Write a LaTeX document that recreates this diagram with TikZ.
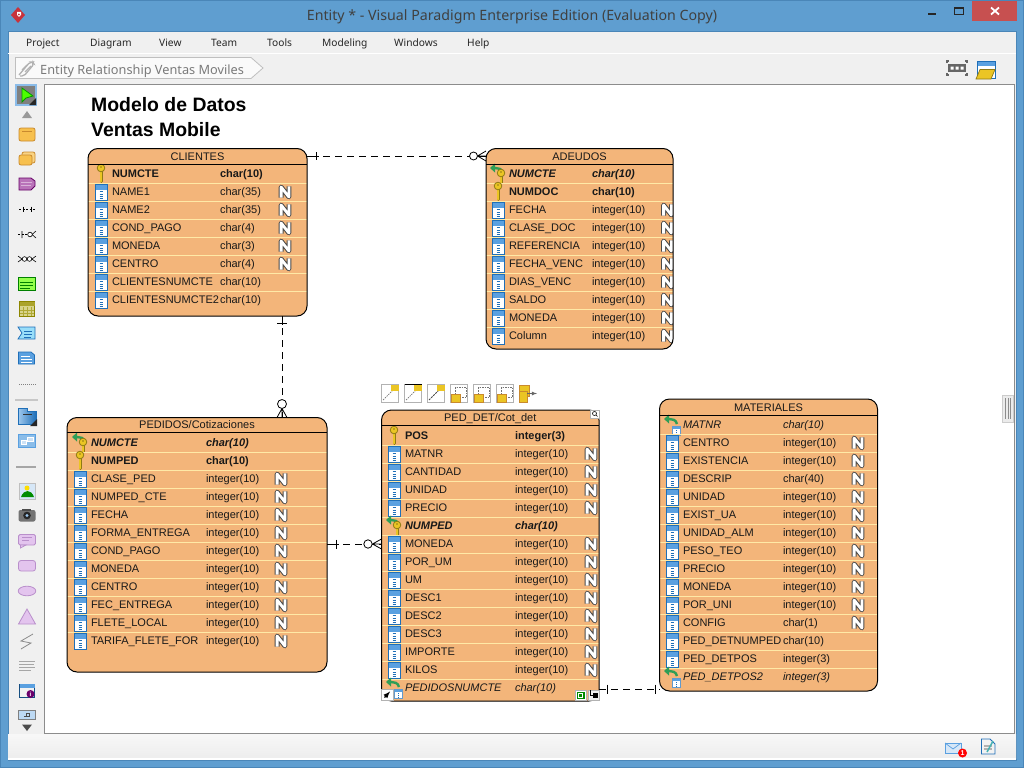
\documentclass[tikz,border=0pt]{standalone}
\usepackage{fontspec}
\setmainfont{Liberation Sans}
\newfontfamily\uifont{Noto Sans}
\usetikzlibrary{calc}
\definecolor{winblue}{HTML}{5F9ED0}
\definecolor{winedge}{HTML}{4A86B8}
\definecolor{panel}{HTML}{F0F0F0}
\definecolor{entfill}{HTML}{F3B57A}
\definecolor{rowsep}{HTML}{FFE9A6}
\definecolor{colblue}{HTML}{1F6FB8}
\definecolor{colhead}{HTML}{5AA0E0}
\definecolor{keygold}{HTML}{EBC524}
\definecolor{keyedge}{HTML}{8F7A14}
\definecolor{fkgreen}{HTML}{2F9E57}
\definecolor{nedge}{HTML}{4A4A4A}
\definecolor{lilac}{HTML}{E3C4EE}
\definecolor{lilacd}{HTML}{B98FCB}
\definecolor{toolgold}{HTML}{F7C04E}
\definecolor{toolgoldd}{HTML}{C98A2E}
\definecolor{closered}{HTML}{C75050}
\definecolor{logored}{HTML}{C8323C}
\tikzset{
  x=1pt,y=-1pt,
  enttext/.style={anchor=base west,inner sep=0pt,outer sep=0pt,font=\fontsize{11}{13}\selectfont,text=black!90},
  enttitle/.style={anchor=base,inner sep=0pt,outer sep=0pt,font=\fontsize{11}{13}\selectfont,text=black!90},
  entbox/.style={anchor=north west,inner sep=0pt,outer sep=0pt,rectangle,rounded corners=10pt,fill=entfill},
  entline/.style={black,line width=1pt},
  conn/.style={black,line width=0.8pt,dash pattern=on 7pt off 5pt},
  connsolid/.style={black,line width=0.8pt},
  menutext/.style={anchor=base west,inner sep=0pt,font=\uifont\fontsize{10.2}{12}\selectfont,text=black!85},
  tbox/.style={draw=black!30,fill=white,line width=0.7pt},
}
% ---- field icons ----
\newcommand\Icoc[2]{%
  \fill[white] (#1-6,#2-7.5) rectangle (#1+6,#2+8);
  \fill[colhead] (#1-6,#2-7.5) rectangle (#1+6,#2-2.5);
  \draw[colblue,line width=0.9pt] (#1-6,#2-7.5) rectangle (#1+6,#2+8);
  \foreach \dy in {-0.5,2,4.5,6.5}{\draw[colblue,line width=1pt] (#1-1.5,#2+\dy) -- (#1+1.5,#2+\dy);}
}
\newcommand\KeyAt[3]{% x, head y, stem length
  \draw[keyedge,line width=3pt,line cap=round] (#1,#2) -- (#1,#2+#3);
  \draw[keygold,line width=1.6pt,line cap=round] (#1,#2) -- (#1,#2+#3);
  \draw[keyedge,fill=keygold,line width=0.8pt] (#1,#2) circle[radius=3.8];
  \fill[keyedge] (#1,#2-1) circle[radius=0.9];
}
\newcommand\Arrow[2]{% anchor at key/icon
  \draw[fkgreen,line width=2.4pt] (#1+5,#2-1) .. controls (#1+4,#2-5.5) and (#1,#2-6) .. (#1-3,#2-6);
  \fill[fkgreen] (#1-8,#2-6) -- (#1-3,#2-10.5) -- (#1-3,#2-1.5) -- cycle;
}
\newcommand\Icop[2]{\KeyAt{#1}{#2-6}{13.5}}
\newcommand\Icof[2]{\Arrow{#1}{#2}\KeyAt{#1+3}{#2-1}{10}}
\newcommand\Icog[2]{%
  \Arrow{#1}{#2}%
  \fill[white] (#1+0.5,#2+1) rectangle (#1+8.5,#2+10);
  \fill[colhead] (#1+0.5,#2+1) rectangle (#1+8.5,#2+4);
  \draw[colblue!70,line width=0.5pt] (#1+0.5,#2+1) rectangle (#1+8.5,#2+10);
  \draw[colblue,line width=1pt,dash pattern=on 1pt off 0.8pt] (#1+4.5,#2+5) -- (#1+4.5,#2+9.5);
}
\newcommand\NIcon[2]{%
  \draw[nedge,line width=4.8pt,miter limit=2,line join=round] (#1-3.9,#2+5.6) -- (#1-3.9,#2-5) -- (#1+3.9,#2+5) -- (#1+3.9,#2-5.6);
  \draw[white,line width=2.8pt,miter limit=2,line join=round] (#1-3.9,#2+5.6) -- (#1-3.9,#2-5) -- (#1+3.9,#2+5) -- (#1+3.9,#2-5.6);
}
\newcommand\Fntc{}\newcommand\Fntp{\bfseries}\newcommand\Fntf{\bfseries\itshape}\newcommand\Fntg{\itshape}
% ---- entity: name,title,x,y,w,h,header-y,rows ----
\newcommand\Ent[8]{%
  \node[entbox,minimum width=#5pt,minimum height=#6pt] (#1) at (#3,#4) {};
  \begin{scope}
  \clip (#1.north west) rectangle (#1.south east);
  \foreach \rk/\rn/\rt/\rz [count=\i from 0] in {#8}{%
    \pgfmathsetmacro\yc{\FY+18*\i}%
    \ifnum\i>0 \draw[rowsep,line width=0.9pt] (#3,\yc-8) -- (#3+#5,\yc-8);\fi
    \csname Ico\rk\endcsname{\IX}{\yc+1}%
    \node[enttext] (#1-name\i) at (\NX,\yc+4) {\csname Fnt\rk\endcsname\rn};
    \node[enttext] (#1-type\i) at (\TX,\yc+4) {\csname Fnt\rk\endcsname\rt};
    \if n\rz \NIcon{\ZX}{\yc+1}\fi
  }
  \end{scope}
  \draw[entline,rounded corners=10pt] (#1.north west) rectangle (#1.south east);
  \draw[entline] (#3,#7) -- (#3+#5,#7);
  \node[enttitle] (#1-title) at (#3+#5/2,#7-4) {#2};
}
\begin{document}
\begin{tikzpicture}
\useasboundingbox (0,0) rectangle (1024,768);
% window frame
\fill[winedge] (0,0) rectangle (1024,768);
\fill[winblue] (1,1) rectangle (1023,767);
\fill[panel] (8,31) rectangle (1016,760);
\draw[winedge,line width=0.8pt] (8,31) rectangle (1016,760);
\fill[white] (8,53) rectangle (1016,54);
% logo
\fill[logored] (18,7) -- (25,15) -- (18,23) -- (11,15) -- cycle;
\fill[white] (17,12) -- (21,12) -- (21,15) -- (19,17) -- (17,15) -- cycle;
\fill[logored] (18.8,13.5) -- (20,14.5) -- (18.8,15.5) -- (17.8,14.5) -- cycle;
\node[anchor=base,inner sep=0pt,font=\uifont\fontsize{14.2}{16}\selectfont,text=black!75] (wintitle) at (512,21) {Entity * - Visual Paradigm Enterprise Edition (Evaluation Copy)};
% window buttons
\draw[black!85,line width=2pt] (928,14) -- (936,14);
\draw[black!85,line width=1pt] (954.5,7.5) rectangle (963.5,14.5);
\draw[black!85,line width=2pt] (954.5,8) -- (963.5,8);
\fill[closered] (972,1) rectangle (1017,21);
\draw[white,line width=1.8pt] (991,7.5) -- (999,14.5) (999,7.5) -- (991,14.5);
% menu
\node[menutext] (m1) at (26,47) {Project};
\node[menutext] (m2) at (90,47) {Diagram};
\node[menutext] (m3) at (159,47) {View};
\node[menutext] (m4) at (211,47) {Team};
\node[menutext] (m5) at (267,47) {Tools};
\node[menutext] (m6) at (322,47) {Modeling};
\node[menutext] (m7) at (394,47) {Windows};
\node[menutext] (m8) at (467,47) {Help};
% breadcrumb
\draw[black!25,fill=black!2,line width=0.8pt] (15.5,57.5) -- (251,57.5) -- (263,68) -- (251,78.5) -- (15.5,78.5) -- cycle;
\draw[black!30,line width=1.3pt,rounded corners=2pt] (19,75) -- (30,62) -- (33,62) -- (34,64) -- (24,76) -- (20,76);
\draw[black!30,line width=1.1pt,rounded corners=2pt] (22,70) -- (27,65) (25,72) -- (31,66);
\node[anchor=base west,inner sep=0pt,font=\uifont\fontsize{12.75}{15}\selectfont,text=black!52] (crumb) at (40,74.5) {Entity Relationship Ventas Moviles};
% top-right toolbar icons
\fill[black!60] (948,64) rectangle (966,72);
\fill[white] (950.5,66.5) rectangle (953.5,69.5) (955.5,66.5) rectangle (958.5,69.5) (960.5,66.5) rectangle (963.5,69.5);
\draw[black!60,line width=1.2pt] (947,63) -- (947,61) -- (949,61) (965,61) -- (967,61) -- (967,63) (947,73) -- (947,75) -- (949,75) (965,75) -- (967,75) -- (967,73);
\fill[white] (977,61) rectangle (995,78);
\fill[colhead] (977,61) rectangle (995,66);
\draw[colblue,line width=0.8pt] (977,61) rectangle (995,78);
\fill[keygold,draw=keyedge,line width=0.7pt] (980,69.5) -- (995,69.5) -- (991,79) -- (976,79) -- cycle;
% diagram canvas
\fill[white] (44,84) rectangle (1014.5,733);
\draw[black!45,line width=0.8pt] (44.5,84.5) rectangle (1014.5,733.5);
% scrollbar grip
\fill[black!8,draw=black!20,line width=0.6pt] (1002,395) rectangle (1013,422);
\draw[black!45,line width=0.5pt] (1005.5,398) -- (1005.5,419) (1008,398) -- (1008,419) (1010.5,398) -- (1010.5,419);
% status bar
\shade[top color=white!97!black,bottom color=black!7] (8,734) rectangle (1016,758);
\fill[white] (8,758) rectangle (1016,760);
\draw[colhead,fill=colhead!25,line width=0.9pt] (945,743) rectangle (961,753);
\draw[colhead,line width=0.7pt] (945,743) -- (953,749) -- (961,743);
\fill[red] (962.5,753) circle[radius=4.5];
\node[inner sep=0pt,font=\bfseries\fontsize{7}{8}\selectfont,text=white] (msgcount) at (962.5,753) {1};
\draw[colblue,fill=black!5,line width=0.8pt] (981.5,739) -- (990,739) -- (995,744) -- (995,754) -- (981.5,754) -- cycle;
\draw[black!30,line width=1.2pt] (984,746) -- (992,746) (984,749) -- (992,749);
\draw[colhead!80!green,line width=1.5pt] (987,752) -- (993,741);
% ---- left tool palette ----
\fill[colhead!70] (15,84) rectangle (37,106);
\fill[black!50] (17,86) rectangle (35,104);
\draw[green!60!black,fill=green!70!yellow,line width=0.8pt] (22,88) -- (22,102) -- (26,98) -- (33,96) -- cycle;
\fill[black!85] (36,98) -- (36,105) -- (29,105) -- cycle;
\fill[black!40] (22,118) -- (27,111) -- (32,118) -- cycle;
\draw[toolgoldd,fill=toolgold,rounded corners=2pt,line width=0.8pt] (19,128) rectangle (35,141);
\draw[toolgoldd,line width=0.8pt] (22,131) -- (32,131);
\draw[toolgoldd,fill=toolgold!70,rounded corners=2pt,line width=0.8pt] (22,152) rectangle (35,163);
\draw[toolgoldd,fill=toolgold,rounded corners=2pt,line width=0.8pt] (19,155) rectangle (32,165);
\draw[violet!80!black,fill=violet!55!white,line width=0.8pt] (19,178) -- (31,178) -- (35,181) -- (35,186) -- (31,190) -- (19,190) -- cycle;
\draw[white!70!violet,line width=0.7pt] (21,182) -- (32,182) (21,185) -- (31,185);
\draw[black,line width=0.6pt,dash pattern=on 2pt off 1.5pt] (19,209) -- (35,209);
\draw[black,line width=0.6pt] (23,206.5) -- (23,211.5) (31,206.5) -- (31,211.5);
\draw[black,line width=0.6pt,dash pattern=on 2pt off 1.5pt] (18,234.5) -- (28,234.5);
\draw[black,line width=0.6pt] (22,231) -- (22,238) (32,234.5) -- (36,231) (32,234.5) -- (36,238);
\draw[black,line width=0.6pt,fill=white] (30,234.5) circle[radius=2.3];
\draw[black,line width=0.6pt] (18,256) -- (22,259) -- (18,262) (36,256) -- (32,259) -- (36,262) (22,259) -- (32,259);
\draw[black,line width=0.6pt,fill=white] (24.5,259) circle[radius=2.3] (29.5,259) circle[radius=2.3];
\draw[green!50!black,fill=green!60!yellow!70,line width=0.8pt] (18.5,277.5) rectangle (35,290);
\draw[green!50!black,line width=0.8pt] (20,282) -- (33,282) (20,285) -- (33,285) (20,288) -- (30,288);
\draw[olive,fill=olive!35,line width=0.8pt] (19.5,301.5) rectangle (34.5,316.5);
\fill[olive!75] (19.5,301.5) rectangle (34.5,306);
\draw[olive!70,line width=0.5pt] (23,307) -- (23,316) (27,307) -- (27,316) (31,307) -- (31,316) (20,310) -- (34,310) (20,313) -- (34,313);
\draw[colblue,fill=cyan!40,line width=0.8pt] (18,327) -- (35,327) -- (35,339) -- (18,339) -- (22,333) -- cycle;
\draw[colblue,line width=0.7pt] (24,331) -- (32,331) (24,334) -- (32,334) (24,337) -- (31,337);
\draw[colblue,fill=colhead,line width=0.8pt] (18.5,352) -- (31,352) -- (34.5,355) -- (34.5,364) -- (18.5,364) -- cycle;
\draw[white,line width=0.7pt] (21,356) -- (30,356) (21,359) -- (32,359) (21,362) -- (32,362);
\draw[black!50,line width=0.6pt,dash pattern=on 1.2pt off 0.8pt] (19,384.5) -- (36,384.5);
\fill[black!22] (15,399) rectangle (38,401);
\draw[colblue,left color=colhead!60,right color=colblue,line width=0.5pt] (18.5,408) -- (27,408) -- (27,411) -- (36,411) -- (36,424.5) -- (18.5,424.5) -- cycle;
\draw[black!80,line width=1pt] (23,414.5) -- (32,414.5);
\fill[black!85] (37,419) -- (37,426) -- (30,426) -- cycle;
\draw[colhead,fill=colhead!70,line width=0.6pt] (18.5,434.5) rectangle (35,447);
\draw[white,line width=0.7pt,fill=colhead!30] (21,440) rectangle (26,444) (27,437.5) rectangle (33,441.5);
\fill[black!35] (16,465.5) rectangle (36,467.5);
\draw[black!25,fill=colhead!25,line width=0.8pt] (19.5,483) rectangle (35,499);
\fill[green!55!black] (21,497) .. controls (24,489) and (31,489) .. (34,497) -- cycle;
\fill[yellow!90!red] (27,488) circle[radius=2.5];
\fill[black!55,rounded corners=2pt] (18.5,510) rectangle (35.5,521.5);
\fill[black!70] (22,508.5) rectangle (31,511);
\fill[black!85] (27,515.5) circle[radius=3.8];
\fill[colhead!60] (27,515.5) circle[radius=1.6];
\draw[lilacd,fill=lilac,rounded corners=1.5pt,line width=0.8pt] (18.5,534.5) rectangle (35.5,545) ;
\fill[lilac,draw=lilacd,line width=0.7pt] (20.5,545) -- (20.5,548) -- (26,545) -- cycle;
\draw[lilacd,line width=0.6pt] (22,537.5) -- (32,537.5) (22,540.5) -- (29,540.5);
\draw[lilacd,fill=lilac,rounded corners=2.5pt,line width=0.8pt] (18.5,560.5) rectangle (35.5,571);
\draw[lilacd,fill=lilac,line width=0.8pt] (27,591) ellipse[x radius=8.8,y radius=4.8];
\draw[lilacd,fill=lilac,line width=0.8pt] (27,609) -- (35.5,624) -- (18.5,624) -- cycle;
\draw[black!45,line width=0.8pt] (33,634) -- (21,641) -- (31,643) -- (21,649);
\draw[black!35,line width=0.7pt] (19,661) -- (35,661) (19,664) -- (34,664) (19,667) -- (35,667) (19,670) -- (31,670);
\draw[colblue!70!black,fill=black!5,line width=0.8pt] (19.5,684) rectangle (34.5,697.5);
\fill[colhead] (19.5,684) rectangle (34.5,687.5);
\fill[violet!85!black] (30.5,694) circle[radius=4];
\node[inner sep=0pt,font=\bfseries\fontsize{6}{7}\selectfont,text=white] (infoi) at (30.5,694) {i};
\draw[black!50,fill=colhead!40,line width=0.7pt] (18.5,710.5) rectangle (35,719.5);
\fill[panel] (15,719.5) rectangle (38,724);
\draw[black!70,line width=0.7pt] (24,716) -- (30,716) (26,713) rectangle (29,716);
\fill[black!70] (22,724.5) -- (32,724.5) -- (27,731) -- cycle;
% ---- title ----
\node[anchor=base west,inner sep=0pt,font=\bfseries\fontsize{19.4}{22}\selectfont] (dtitle1) at (91,111) {Modelo de Datos};
\node[anchor=base west,inner sep=0pt,font=\bfseries\fontsize{19.4}{22}\selectfont] (dtitle2) at (91,136) {Ventas Mobile};
% ---- entities ----
\def\FY{173}\def\IX{101}\def\NX{112}\def\TX{220}\def\ZX{285}
\Ent{clientes}{CLIENTES}{88}{148.5}{219}{167.5}{164}{
 p/NUMCTE/char(10)/x,c/NAME1/char(35)/n,c/NAME2/char(35)/n,c/COND\_PAGO/char(4)/n,c/MONEDA/char(3)/n,c/CENTRO/char(4)/n,c/CLIENTESNUMCTE/char(10)/x,c/CLIENTESNUMCTE2/char(10)/x}
\def\FY{173}\def\IX{498}\def\NX{509}\def\TX{592}\def\ZX{667.5}
\Ent{adeudos}{ADEUDOS}{486}{148.5}{187}{200.5}{164}{
 f/NUMCTE/char(10)/x,p/NUMDOC/char(10)/x,c/FECHA/integer(10)/n,c/CLASE\_DOC/integer(10)/n,c/REFERENCIA/integer(10)/n,c/FECHA\_VENC/integer(10)/n,c/DIAS\_VENC/integer(10)/n,c/SALDO/integer(10)/n,c/MONEDA/integer(10)/n,c/Column/integer(10)/n}
\def\FY{442}\def\IX{80}\def\NX{91}\def\TX{206}\def\ZX{281}
\Ent{pedidos}{PEDIDOS/Cotizaciones}{67}{417.5}{260}{254.5}{432.5}{
 f/NUMCTE/char(10)/x,p/NUMPED/char(10)/x,c/CLASE\_PED/integer(10)/n,c/NUMPED\_CTE/integer(10)/n,c/FECHA/integer(10)/n,c/FORMA\_ENTREGA/integer(10)/n,c/COND\_PAGO/integer(10)/n,c/MONEDA/integer(10)/n,c/CENTRO/integer(10)/n,c/FEC\_ENTREGA/integer(10)/n,c/FLETE\_LOCAL/integer(10)/n,c/TARIFA\_FLETE\_FOR/integer(10)/n}
\def\FY{435}\def\IX{394}\def\NX{405}\def\TX{515}\def\ZX{591}
\Ent{peddet}{PED\_DET/Cot\_det}{381.5}{410}{217.5}{291}{425.5}{
 p/POS/integer(3)/x,c/MATNR/integer(10)/n,c/CANTIDAD/integer(10)/n,c/UNIDAD/integer(10)/n,c/PRECIO/integer(10)/n,f/NUMPED/char(10)/x,c/MONEDA/integer(10)/n,c/POR\_UM/integer(10)/n,c/UM/integer(10)/n,c/DESC1/integer(10)/n,c/DESC2/integer(10)/n,c/DESC3/integer(10)/n,c/IMPORTE/integer(10)/n,c/KILOS/integer(10)/n,g/PEDIDOSNUMCTE/char(10)/x}
\def\FY{424}\def\IX{672}\def\NX{683}\def\TX{783}\def\ZX{858}
\Ent{materiales}{MATERIALES}{659.5}{399}{218}{292}{415}{
 g/MATNR/char(10)/x,c/CENTRO/integer(10)/n,c/EXISTENCIA/integer(10)/n,c/DESCRIP/char(40)/n,c/UNIDAD/integer(10)/n,c/EXIST\_UA/integer(10)/n,c/UNIDAD\_ALM/integer(10)/n,c/PESO\_TEO/integer(10)/n,c/PRECIO/integer(10)/n,c/MONEDA/integer(10)/n,c/POR\_UNI/integer(10)/n,c/CONFIG/char(1)/n,c/PED\_DETNUMPED/char(10)/x,c/PED\_DETPOS/integer(3)/x,g/PED\_DETPOS2/integer(3)/x}
% ---- connectors ----
% clientes -- adeudos
\coordinate (a1) at ([yshift=-7.5pt]clientes.north east);
\coordinate (a2) at ([yshift=-7.5pt]adeudos.north west);
\draw[conn] ([xshift=16pt]a1) -- (a2);
\draw[connsolid] (a1) -- ++(12,0);
\draw[connsolid] (a1) ++(9,-4) -- ++(0,8);
\draw[connsolid,fill=white] (a2) ++(-12.5,0) circle[radius=4];
\draw[connsolid] (a2) ++(-8.5,0) -- ++(8.5,0) (a2) ++(-8.5,0) -- ++(8.5,-5) (a2) ++(-8.5,0) -- ++(8.5,5);
% clientes -- pedidos
\coordinate (b1) at (282,0);
\coordinate (b2) at (clientes.south -| b1);
\coordinate (b3) at (pedidos.north -| b1);
\draw[conn] ([yshift=-12pt]b2) -- (b3);
\draw[connsolid] (b2) -- ++(0,9);
\draw[connsolid] (b2) ++(-5,7) -- ++(10,0);
\draw[connsolid,fill=white] (b3) ++(0,-13.5) circle[radius=4.5];
\draw[connsolid] (b3) ++(0,-9) -- ++(0,9) (b3) ++(0,-9) -- ++(-5,9) (b3) ++(0,-9) -- ++(5,9);
% pedidos -- ped_det
\coordinate (c1) at (0,544);
\coordinate (c2) at (pedidos.east |- c1);
\coordinate (c3) at (peddet.west |- c1);
\draw[conn] ([xshift=16pt]c2) -- (c3);
\draw[connsolid] (c2) -- ++(12,0);
\draw[connsolid] (c2) ++(9,-4.5) -- ++(0,9);
\draw[connsolid,fill=white] (c3) ++(-13.5,0) circle[radius=4.2];
\draw[connsolid] (c3) ++(-9,0) -- ++(9,0) (c3) ++(-9,0) -- ++(9,-5) (c3) ++(-9,0) -- ++(9,5);
% ped_det -- materiales
\coordinate (d1) at (0,689);
\coordinate (d2) at (peddet.east |- d1);
\coordinate (d3) at (materiales.west |- d1);
\draw[conn] (d2) -- (d3);
\draw[connsolid] (d2) ++(8,-4.5) -- ++(0,9);
\draw[connsolid] (d3) ++(-4.5,-4.5) -- ++(0,9);
% ---- selection handles on ped_det ----
\draw[tbox] (590,410) rectangle (599,418);
\draw[black,line width=0.6pt] (594.5,413.5) circle[radius=2] (596,415) -- (597.5,416.5);
\draw[tbox] (381.5,689) rectangle (393,700);
\draw[black,line width=1.3pt,-latex] (384.5,697.5) -- (390,691.5);
\draw[tbox] (575,690) rectangle (586,700);
\fill[green!55!black] (576.5,691.5) rectangle (584.5,698.5);
\draw[white,line width=0.5pt] (578.5,693) rectangle (582.5,697);
\fill[panel,draw=black!30,line width=0.6pt] (588,690) rectangle (599,700);
\draw[black,line width=0.7pt] (590,690) -- (590,695) -- (593,695);
\fill[black] (593,693) -- (598,693) -- (598,698) -- (593,698) -- cycle;
% ---- small connector toolbar above ped_det ----
\foreach \tx [count=\j] in {381.5,404.5,427.5,450.5,473.5,496.5}{
  \draw[tbox] (\tx,384.5) rectangle (\tx+17,402);
}
\draw[black!55,line width=0.7pt,dash pattern=on 1.5pt off 1pt] (383,400) -- (394,389);
\draw[black!55,line width=0.7pt,dash pattern=on 1.5pt off 1pt] (406,400) -- (417,389);
\draw[black,line width=1pt] (404.5,384.5) -- (421.5,384.5);
\draw[black!70,line width=0.9pt,dash pattern=on 2pt off 1pt] (429,400) -- (440,389);
\foreach \tx in {391,414,437}{\fill[keygold] (\tx,384.5) rectangle (\tx+7.5,391);}
\foreach \tx in {450.5,473.5,496.5}{
  \fill[keygold,draw=toolgoldd,line width=0.5pt] (\tx+1,394.5) rectangle (\tx+10,402);
  \draw[black!55,line width=0.6pt,dash pattern=on 1.5pt off 1pt] (\tx+5,394) -- (\tx+5,387.5) -- (\tx+16,387.5) -- (\tx+16,397) -- (\tx+11,397);
}
\fill[keygold,draw=toolgoldd,line width=0.5pt] (519,385) rectangle (529,396) ;
\fill[keygold,draw=toolgoldd,line width=0.5pt] (519,391) rectangle (527,402);
\draw[black!60,line width=0.8pt,-latex] (527,393.5) -- (537,393.5);
\end{tikzpicture}
\end{document}
